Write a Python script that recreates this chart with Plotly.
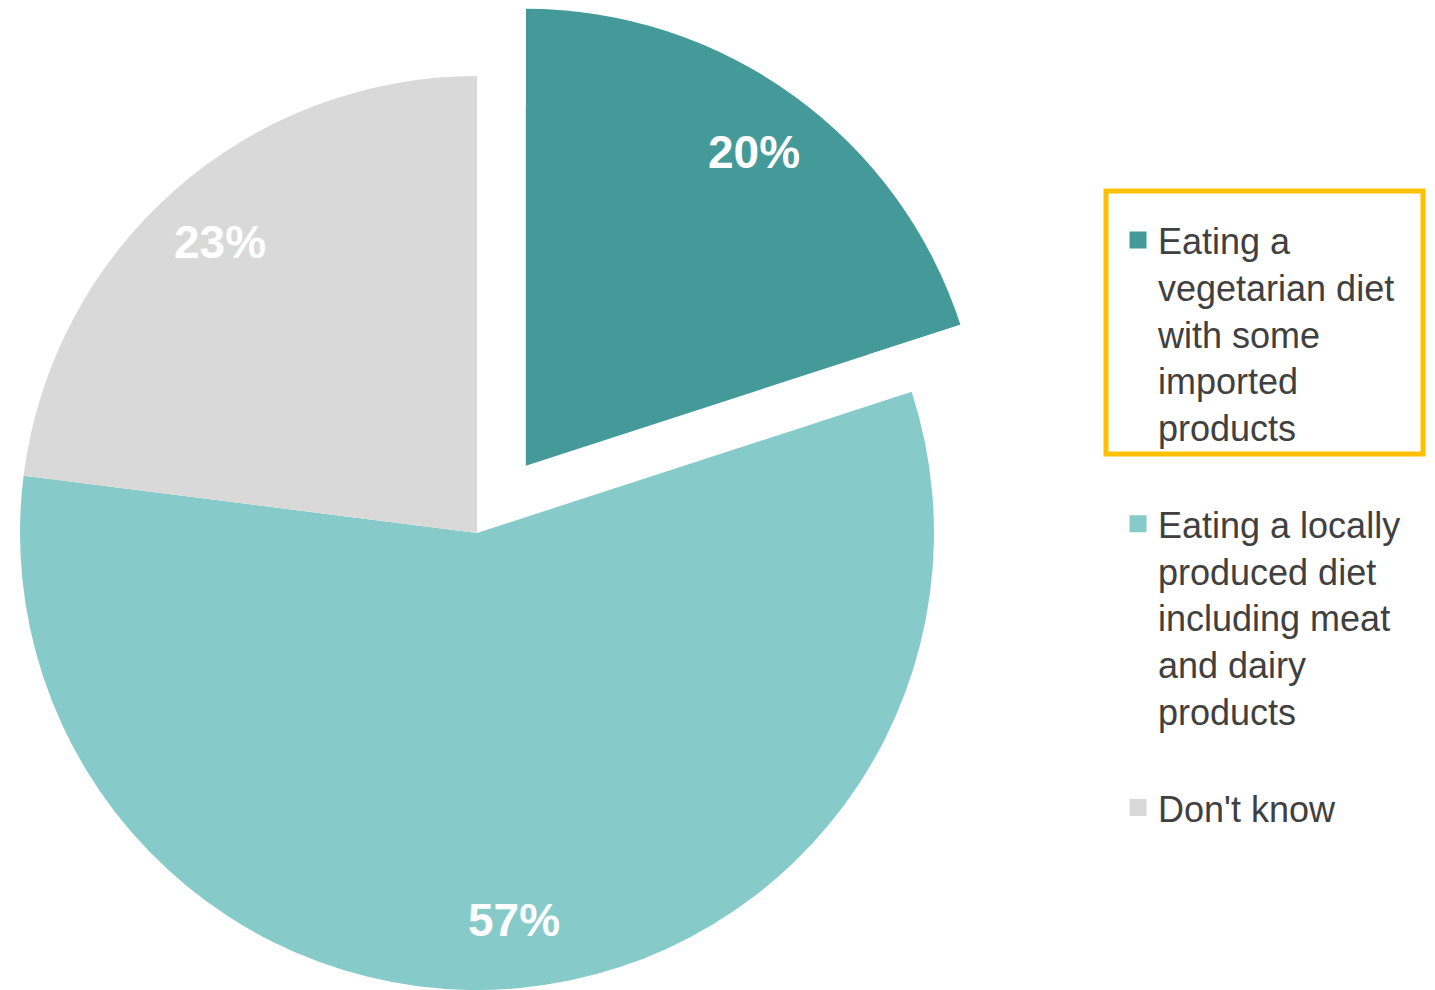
import math
import plotly.graph_objects as go

# ---------------- data ----------------
categories = [
    "Eating a<br>vegetarian diet<br>with some<br>imported<br>products",
    "Eating a locally<br>produced diet<br>including meat<br>and dairy<br>products",
    "Don't know",
]
values = [20, 57, 23]
colors = ["#439A99", "#86CBCA", "#D9D9D9"]
highlighted = 0  # index of the exploded / highlighted slice

# ---------------- layout constants (page pixels) ----------------
OFF = 8                       # default page margin of the html body
W, H = 1435 - OFF, 990 - OFF  # figure size
CX, CY, R = 477.0, 533.0, 457.0   # pie centre / radius on the page
PULL_PX = 83.0                    # explode distance of highlighted slice
LABEL_FRAC = 0.85                 # radial position of the % labels

total = float(sum(values))

# legend labels with a spacer line between entries
legend_labels = [c + "<br>" if i < len(categories) - 1 else c for i, c in enumerate(categories)]


def fx(x):
    return (x - OFF) / W


def fy(y):
    return 1 - (y - OFF) / H


def pie_domain(cx, cy, r):
    return dict(x=[max(0.0, fx(cx - r)), min(1.0, fx(cx + r))],
                y=[max(0.0, fy(cy + r)), min(1.0, fy(cy - r))])


# slice angles (clockwise from 12 o'clock)
starts = []
acc = 0.0
for v in values:
    starts.append(acc)
    acc += v
mids = [360.0 * (s + v / 2.0) / total for s, v in zip(starts, values)]

hmid = math.radians(mids[highlighted])
PCX = CX + PULL_PX * math.sin(hmid)
PCY = CY - PULL_PX * math.cos(hmid)

pie_style = dict(sort=False, direction="clockwise", rotation=0, textinfo="none",
                 hoverinfo="label+percent")
transparent = "rgba(0,0,0,0)"

fig = go.Figure()
# 1) legend-carrying pie (fully hidden underneath the others)
fig.add_trace(go.Pie(labels=legend_labels, values=values, **pie_style,
                     marker=dict(colors=colors, line=dict(color=colors, width=6)),
                     domain=pie_domain(CX, CY, R - 30), showlegend=True))
# 2) exploded slice, rest of its disc painted as background
pulled_values = [values[highlighted], total - values[highlighted]]
fig.add_trace(go.Pie(labels=[legend_labels[highlighted], "other"], values=pulled_values,
                     **pie_style,
                     marker=dict(colors=[colors[highlighted], "white"], line=dict(width=0)),
                     domain=pie_domain(PCX, PCY, R), showlegend=False))
# 3) remaining slices
rest_colors = [transparent if i == highlighted else colors[i] for i in range(len(values))]
fig.add_trace(go.Pie(labels=legend_labels, values=values, **pie_style,
                     marker=dict(colors=rest_colors, line=dict(width=0)),
                     domain=pie_domain(CX, CY, R), showlegend=False))

# percentage labels
annotations = []
for i, v in enumerate(values):
    cx, cy = (PCX, PCY) if i == highlighted else (CX, CY)
    a = math.radians(mids[i])
    px = cx + LABEL_FRAC * R * math.sin(a)
    py = cy - LABEL_FRAC * R * math.cos(a)
    annotations.append(dict(
        x=fx(px), y=fy(py), xref="paper", yref="paper",
        text=f"{v / total * 100:.0f}%", showarrow=False,
        xanchor="center", yanchor="middle",
        font=dict(family="Liberation Sans, Arial, sans-serif", size=46,
                  color="white", weight="bold"),
    ))

fig.update_layout(
    width=W, height=H,
    margin=dict(l=0, r=0, t=0, b=0, pad=0),
    paper_bgcolor="white", plot_bgcolor="white",
    font=dict(family="Liberation Sans, Arial, sans-serif"),
    legend=dict(
        x=fx(1118), xanchor="left", y=fy(210), yanchor="top",
        valign="top", traceorder="normal",
        font=dict(family="Liberation Sans, Arial, sans-serif", size=36, color="#404040"),
        bgcolor="rgba(0,0,0,0)", borderwidth=0,
    ),
    annotations=annotations,
    shapes=[dict(type="rect", xref="paper", yref="paper",
                 x0=fx(1106), x1=fx(1423), y0=fy(454), y1=fy(191),
                 line=dict(color="#FFC000", width=5), fillcolor="rgba(0,0,0,0)")],
)

fig.write_html("out.html")
